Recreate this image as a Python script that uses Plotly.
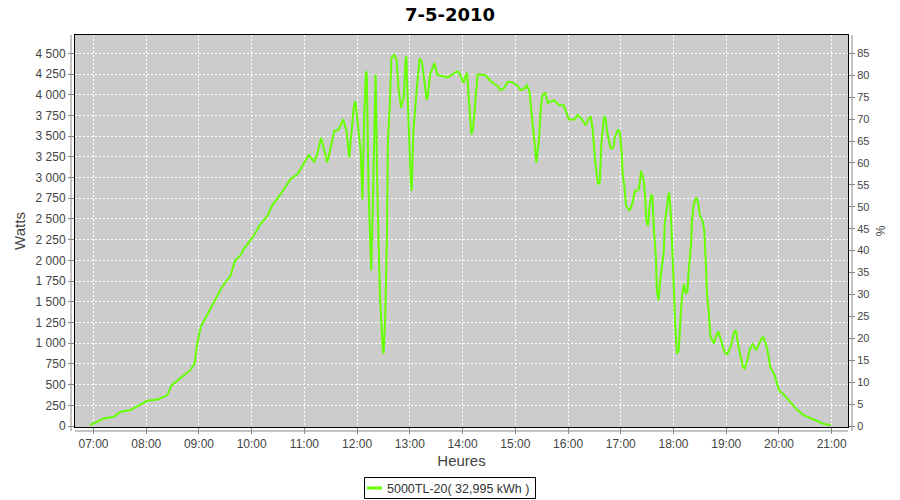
import plotly.graph_objects as go

DATE = "2010-05-07"
times = [
    "06:56", "07:12", "07:23", "07:31", "07:42", "07:50", "08:01", "08:13", "08:24", "08:29",
    "08:39", "08:50", "08:55", "08:58", "09:02", "09:10", "09:17", "09:26", "09:36", "09:41",
    "09:47", "09:51", "10:01", "10:10", "10:18", "10:23", "10:33", "10:44", "10:52", "10:58",
    "11:05", "11:11", "11:14", "11:19", "11:26", "11:34", "11:39", "11:44", "11:48", "11:51",
    "11:56", "11:58", "12:02", "12:04", "12:06", "12:08", "12:10", "12:11", "12:13", "12:16",
    "12:17", "12:19", "12:21", "12:23", "12:26", "12:29", "12:30", "12:32", "12:34", "12:35",
    "12:37", "12:39", "12:42", "12:45", "12:47", "12:50", "12:53", "12:55", "12:56", "12:57",
    "12:59", "13:01", "13:02", "13:04", "13:07", "13:09", "13:11", "13:14", "13:17", "13:19",
    "13:20", "13:23", "13:28", "13:31", "13:35", "13:43", "13:48", "13:54", "13:56", "14:01",
    "14:04", "14:05", "14:07", "14:10", "14:12", "14:15", "14:17", "14:20", "14:26", "14:32",
    "14:40", "14:43", "14:47", "14:51", "14:56", "15:02", "15:06", "15:10", "15:13", "15:16",
    "15:18", "15:21", "15:24", "15:27", "15:29", "15:31", "15:34", "15:37", "15:44", "15:50",
    "15:55", "16:01", "16:07", "16:11", "16:16", "16:20", "16:24", "16:26", "16:28", "16:31",
    "16:34", "16:36", "16:38", "16:41", "16:43", "16:44", "16:46", "16:48", "16:50", "16:52",
    "16:53", "16:55", "16:57", "16:59", "17:01", "17:02", "17:04", "17:06", "17:10", "17:13",
    "17:16", "17:20", "17:22", "17:23", "17:26", "17:28", "17:29", "17:31", "17:33", "17:35",
    "17:36", "17:38", "17:40", "17:41", "17:43", "17:44", "17:46", "17:49", "17:50", "17:52",
    "17:54", "17:55", "17:57", "17:59", "18:01", "18:02", "18:04", "18:06", "18:08", "18:10",
    "18:12", "18:14", "18:16", "18:17", "18:20", "18:21", "18:23", "18:26", "18:28", "18:30",
    "18:33", "18:35", "18:37", "18:38", "18:40", "18:42", "18:46", "18:48", "18:51", "18:54",
    "18:58", "19:01", "19:05", "19:09", "19:11", "19:14", "19:19", "19:21", "19:24", "19:27",
    "19:30", "19:34", "19:37", "19:40", "19:42", "19:45", "19:47", "19:50", "19:55", "19:58",
    "20:00", "20:06", "20:13", "20:21", "20:28", "20:36", "20:44", "20:51", "20:59",
]
watts = [
    12, 92, 112, 172, 192, 241, 304, 321, 373, 493,
    574, 674, 754, 995, 1195, 1356, 1495, 1676, 1817, 1997,
    2057, 2138, 2277, 2438, 2538, 2659, 2799, 2980, 3040, 3140,
    3272, 3192, 3261, 3481, 3181, 3561, 3581, 3702, 3561, 3240,
    3842, 3922, 3521, 3321, 2739, 3721, 4283, 4243, 2839, 1877,
    2277, 3481, 4243, 2839, 1556, 954, 874, 1315, 2358, 3441,
    3842, 4443, 4483, 4423, 4082, 3842, 3962, 4403, 4463, 4122,
    3441, 2960, 2839, 3561, 3962, 4243, 4443, 4383, 4122, 3942,
    3962, 4243, 4383, 4243, 4230, 4210, 4243, 4283, 4267, 4142,
    4243, 4263, 3962, 3521, 3601, 3962, 4243, 4243, 4235, 4163,
    4102, 4054, 4074, 4154, 4154, 4114, 4054, 4074, 4114, 4042,
    3802, 3441, 3181, 3481, 3842, 4002, 4022, 3902, 3934, 3874,
    3874, 3702, 3702, 3754, 3702, 3633, 3722, 3730, 3581, 3181,
    2920, 2940, 3421, 3742, 3702, 3581, 3441, 3361, 3349, 3381,
    3481, 3541, 3581, 3541, 3301, 3060, 2900, 2659, 2599, 2679,
    2839, 2847, 2960, 3080, 2980, 2719, 2478, 2418, 2679, 2799,
    2759, 2318, 2037, 1636, 1516, 1676, 1877, 2117, 2438, 2639,
    2759, 2819, 2559, 2037, 1476, 1195, 874, 914, 1315, 1596,
    1716, 1596, 1636, 1837, 2198, 2478, 2679, 2759, 2699, 2538,
    2478, 2358, 1917, 1596, 1396, 1075, 995, 1075, 1143, 1035,
    894, 866, 954, 1135, 1155, 954, 714, 694, 794, 934,
    987, 914, 975, 1055, 1075, 995, 914, 714, 614, 514,
    433, 373, 293, 192, 132, 92, 52, 24, 12,
]
series_name = "5000TL-20( 32,995 kWh )"
title_text = "7-5-2010"
watt_ticks = list(range(0, 4501, 250))
watt_labels = [f"{v:,}".replace(",", " ") for v in watt_ticks]
pct_ticks = list(range(0, 86, 5))
PCT_SCALE = 85 / 4500  # % per watt (axis ratio)

x = [f"{DATE} {t}" for t in times]
pct = [w * PCT_SCALE for w in watts]

GREEN = "#66FF00"
FONT = "Liberation Sans"
TXT = "#444444"
AX = "#888888"

L, R, T, B = 75, 52, 35, 73
PW, PH = 900 - L - R, 500 - T - B


def px(page_x):
    return (page_x - L) / PW


def py(page_y):
    return (T + PH - page_y) / PH


fig = go.Figure()
fig.add_trace(go.Scatter(x=x, y=watts, mode="lines", name=series_name, showlegend=False,
                         line=dict(color=GREEN, width=2)))
fig.add_trace(go.Scatter(x=x, y=pct, mode="lines", yaxis="y2", showlegend=False,
                         line=dict(color="rgba(0,0,0,0)", width=0), hoverinfo="skip"))

ymin, ymax = -12, 4721
fig.update_layout(
    template="none",
    width=900, height=500,
    margin=dict(l=L, r=R, t=T, b=B, autoexpand=False),
    paper_bgcolor="white", plot_bgcolor="#CCCCCC",
    font=dict(family=FONT, size=12, color=TXT),
    title=dict(text=title_text, x=0.5, xref="container", xanchor="center",
               y=1 - 14.5 / 500, yref="container", yanchor="middle",
               font=dict(family="DejaVu Sans", size=18, color="black", weight="bold")),
    xaxis=dict(
        type="date", automargin=False,
        range=[f"{DATE} 06:38:57", f"{DATE} 21:18:33"],
        dtick=3600000, tick0=f"{DATE} 07:00", tickformat="%H:%M",
        showgrid=True, gridcolor="white", griddash="2px,2px", gridwidth=1,
        showline=True, linecolor="black", linewidth=1, mirror=True,
        ticks="outside", ticklen=6, tickcolor=AX,
        tickfont=dict(size=12, color=TXT), zeroline=False,
        title=dict(text="Heures", font=dict(size=15, color=TXT), standoff=5),
    ),
    yaxis=dict(
        range=[ymin, ymax], tickvals=watt_ticks, ticktext=watt_labels, automargin=False,
        showgrid=True, gridcolor="white", griddash="2px,2px", gridwidth=1,
        showline=True, linecolor="black", linewidth=1, mirror=True,
        ticks="outside", ticklen=6, tickcolor=AX,
        tickfont=dict(size=12, color=TXT), zeroline=False,
        title=dict(text="Watts", font=dict(size=15, color=TXT), standoff=6),
    ),
    yaxis2=dict(
        overlaying="y", side="right", automargin=False,
        range=[ymin * PCT_SCALE, ymax * PCT_SCALE], tickvals=pct_ticks,
        showgrid=False, zeroline=False, showline=False,
        ticks="outside", ticklen=6, tickcolor=AX,
        tickfont=dict(size=11, color=TXT),
        title=dict(text="%", font=dict(size=12, color=TXT), standoff=8),
    ),
    showlegend=False,
    shapes=[
        # offset axis lines
        dict(type="line", xref="paper", yref="paper", x0=-4 / PW, x1=-4 / PW, y0=-4 / PH, y1=1,
             line=dict(color=AX, width=1)),
        dict(type="line", xref="paper", yref="paper", x0=1 + 4 / PW, x1=1 + 4 / PW, y0=-4 / PH, y1=1,
             line=dict(color=AX, width=1)),
        dict(type="line", xref="paper", yref="paper", x0=0, x1=1, y0=-4 / PH, y1=-4 / PH,
             line=dict(color=AX, width=1)),
        # legend box and swatch
        dict(type="rect", xref="paper", yref="paper", x0=px(364.5), x1=px(535.5),
             y0=py(477.5), y1=py(498.5), line=dict(color="black", width=1), fillcolor="white"),
        dict(type="line", xref="paper", yref="paper", x0=px(367), x1=px(382),
             y0=py(488), y1=py(488), line=dict(color=GREEN, width=3)),
    ],
    annotations=[
        dict(text=series_name, xref="paper", yref="paper", x=px(385), y=py(488.5),
             xanchor="left", yanchor="middle", showarrow=False,
             font=dict(size=12.5, color="#333333", family=FONT)),
    ],
)
fig.write_html("out.html", config={"displayModeBar": False},
               post_script="document.body.style.margin='0';document.body.style.padding='0';")
